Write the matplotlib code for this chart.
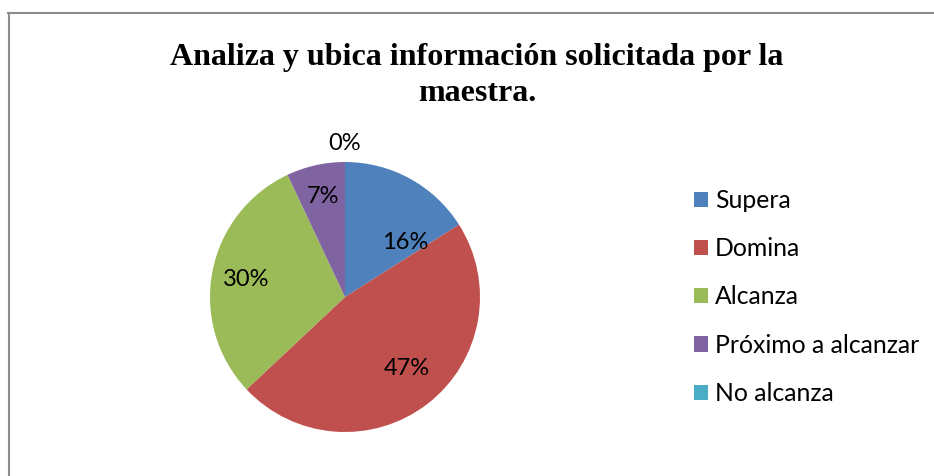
import matplotlib
matplotlib.use("Agg")
import matplotlib.pyplot as plt
import numpy as np
from matplotlib.lines import Line2D

categories = ["Supera", "Domina", "Alcanza", "Próximo a alcanzar", "No alcanza"]
values = [16, 47, 30, 7, 0]
labels = ["16%", "47%", "30%", "7%", "0%"]
colors = ["#4F81BD", "#C0504D", "#9BBB59", "#8064A2", "#4BACC6"]
title = "Analiza y ubica información solicitada por la\nmaestra."

W, H = 934, 476
fig = plt.figure(figsize=(W / 100, H / 100), dpi=100)

# border (top and left)
fig.add_artist(Line2D([8 / W, 1.0], [1 - 12.5 / H, 1 - 12.5 / H], color="#8c8c8c", lw=1.5, transform=fig.transFigure))
fig.add_artist(Line2D([8.5 / W, 8.5 / W], [0, 1 - 12.5 / H], color="#8c8c8c", lw=1.5, transform=fig.transFigure))

cx, cy, r = 345, 297, 135
ax = fig.add_axes([(cx - r) / W, (H - cy - r) / H, 2 * r / W, 2 * r / H])
wedges, _ = ax.pie(values, colors=colors, startangle=90, counterclock=False,
                   radius=1.0, wedgeprops=dict(linewidth=0))
ax.set_xlim(-1, 1)
ax.set_ylim(-1, 1)
ax.set_aspect("equal")
ax.axis("off")

# label placement (radius, angle offset in degrees) tuned per wedge
label_pos = [(0.60, -19), (0.70, 3), (0.74, 1), (0.76, 0), (1.14, 0)]
for w, lab, (rr, dang) in zip(wedges, labels, label_pos):
    ang = np.deg2rad((w.theta1 + w.theta2) / 2 + dang)
    ax.text(rr * np.cos(ang), rr * np.sin(ang), lab, ha="center", va="center",
            fontsize=17, family="Lato", color="#000000", clip_on=False)

fig.text(477 / W, 1 - 75.5 / H, title, ha="center", va="center", fontsize=23,
         fontweight="bold", family="Liberation Serif", linespacing=1.3)

leg = fig.legend(wedges, categories, loc="upper left",
                 bbox_to_anchor=(694 / W, 1 - 189 / H), frameon=False,
                 prop=dict(family="Lato", size=17.8), handlelength=0.57,
                 handleheight=0.57, handletextpad=0.28, labelspacing=1.02,
                 borderpad=0, borderaxespad=0)

fig.savefig("out.png", dpi=100, facecolor="white")
